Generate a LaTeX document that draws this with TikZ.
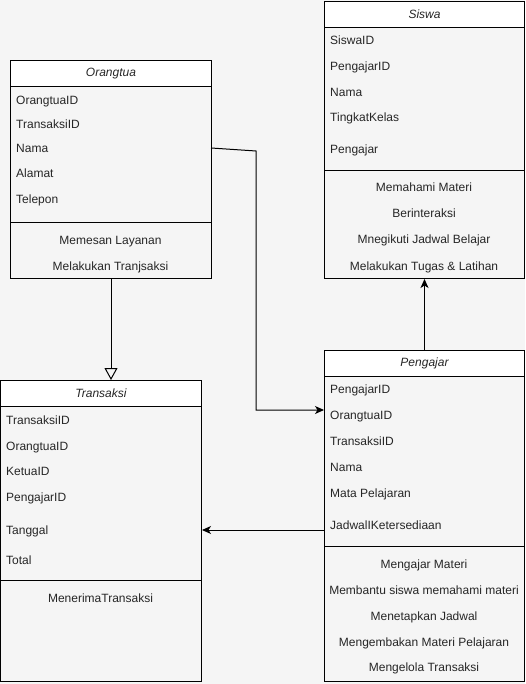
\documentclass[tikz,border=0pt]{standalone}
\usepackage{fontspec}
\setmainfont{Liberation Sans}
\usetikzlibrary{arrows.meta,calc}
\definecolor{bg}{HTML}{F5F5F5}
\definecolor{txt}{HTML}{262626}
\begin{document}
\begin{tikzpicture}[x=1pt,y=-1pt,
  box/.style={draw=black, line width=1pt, fill=bg, anchor=north west, inner sep=0pt},
  hdr/.style={draw=black, line width=1pt, fill=white, anchor=north west, inner sep=0pt, minimum height=26pt, text=txt, font=\itshape\fontsize{12}{14}\selectfont},
  attr/.style={anchor=west, inner sep=0pt, text height=8.6pt, text depth=0pt, text=txt, font=\fontsize{12}{14}\selectfont},
  meth/.style={anchor=center, inner sep=0pt, text height=8.6pt, text depth=0pt, text=txt, font=\fontsize{12}{14}\selectfont},
  conn/.style={line width=1pt, draw=black},
  fillarrow/.style={-{Stealth[length=9pt,width=8pt,inset=2.5pt]}},
  openarrow/.style={-{Triangle[open,length=12pt,width=13pt,line width=1pt]}}]
\fill[bg] (0,0) rectangle (525,684);
\useasboundingbox (0,0) rectangle (525,684);

% ---------- Orangtua ----------
\node[box, minimum width=201pt, minimum height=218pt] (orangtua) at (10,60) {};
\node[hdr, minimum width=201pt] (orangtuaH) at (10,60) {Orangtua};
\node[box, minimum width=201pt, minimum height=56pt] (orangtuaM) at (10,222) {};
\node[attr] (o1) at (16,100) {OrangtuaID};
\node[attr] (o2) at (16,124) {TransaksiID};
\node[attr] (o3) at (16,148) {Nama};
\node[attr] (o4) at (16,173) {Alamat};
\node[attr] (o5) at (16,199) {Telepon};
\node[meth] (om1) at (110.5,240) {Memesan Layanan};
\node[meth] (om2) at (110.5,266) {Melakukan Tranjsaksi};

% ---------- Siswa ----------
\node[box, minimum width=200pt, minimum height=277pt] (siswa) at (324,1) {};
\node[hdr, minimum width=200pt] (siswaH) at (324,1) {Siswa};
\node[box, minimum width=200pt, minimum height=108pt] (siswaM) at (324,170) {};
\node[attr] (s1) at (330,40) {SiswaID};
\node[attr] (s2) at (330,66) {PengajarID};
\node[attr] (s3) at (330,92) {Nama};
\node[attr] (s4) at (330,117) {TingkatKelas};
\node[attr] (s5) at (330,149) {Pengajar};
\node[meth] (sm1) at (424,187) {Memahami Materi};
\node[meth] (sm2) at (424,213) {Berinteraksi};
\node[meth] (sm3) at (424,239) {Mnegikuti Jadwal Belajar};
\node[meth] (sm4) at (424,266) {Melakukan Tugas \& Latihan};

% ---------- Transaksi ----------
\node[box, minimum width=201pt, minimum height=301pt] (transaksi) at (0,380) {};
\node[hdr, minimum width=201pt] (transaksiH) at (0,380) {Transaksi};
\node[box, minimum width=201pt, minimum height=101pt] (transaksiM) at (0,580) {};
\node[attr] (t1) at (6,420) {TransaksiID};
\node[attr] (t2) at (6,446) {OrangtuaID};
\node[attr] (t3) at (6,471) {KetuaID};
\node[attr] (t4) at (6,497) {PengajarID};
\node[attr] (t5) at (6,530) {Tanggal};
\node[attr] (t6) at (6,560) {Total};
\node[meth] (tm1) at (100.5,598) {MenerimaTransaksi};

% ---------- Pengajar ----------
\node[box, minimum width=200pt, minimum height=331pt] (pengajar) at (324,350) {};
\node[hdr, minimum width=200pt] (pengajarH) at (324,350) {Pengajar};
\node[box, minimum width=200pt, minimum height=135pt] (pengajarM) at (324,546) {};
\node[attr] (p1) at (330,389) {PengajarID};
\node[attr] (p2) at (330,415) {OrangtuaID};
\node[attr] (p3) at (330,441) {TransaksiID};
\node[attr] (p4) at (330,467) {Nama};
\node[attr] (p5) at (330,493) {Mata Pelajaran};
\node[attr] (p6) at (330,525) {JadwalIKetersediaan};
\node[meth] (pm1) at (424,564) {Mengajar Materi};
\node[meth] (pm2) at (424,590) {Membantu siswa memahami materi};
\node[meth] (pm3) at (424,616) {Menetapkan Jadwal};
\node[meth] (pm4) at (424,642) {Mengembakan Materi Pelajaran};
\node[meth] (pm5) at (424,667) {Mengelola Transaksi};

% ---------- connectors ----------
\coordinate (oNama) at (211,148);
\coordinate (bendA) at (256,151);
\coordinate (bendB) at (256,410);
\coordinate (pIn) at (324,410);
\draw[conn, fillarrow] (oNama) -- (bendA) -- (bendB) -- (pIn);

\draw[conn, openarrow] (orangtua.south) -- (orangtua.south |- transaksi.north);

\draw[conn, fillarrow] (pengajar.north) -- (siswa.south);

\coordinate (pOut) at (324,530);
\draw[conn, fillarrow] (pOut) -- (pOut -| transaksi.east);
\end{tikzpicture}
\end{document}
